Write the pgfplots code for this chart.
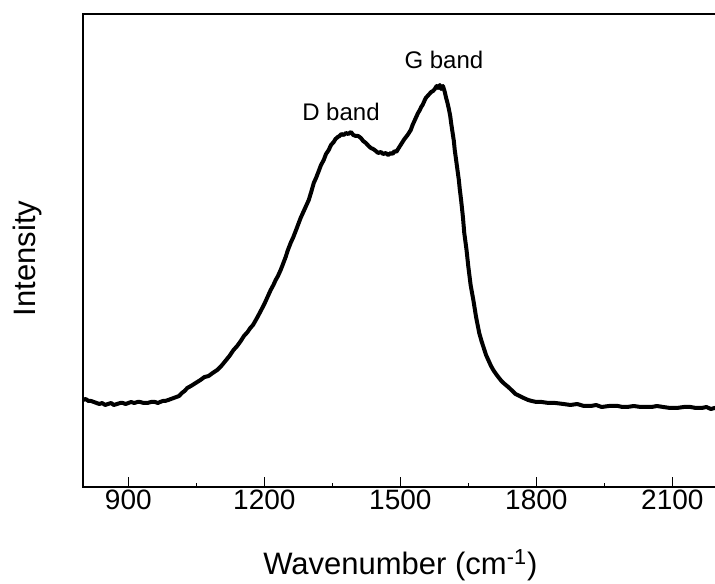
\documentclass[border=0pt]{standalone}
\usepackage{fontspec}
\setmainfont{Liberation Sans}
\usepackage{pgfplots}
\pgfplotsset{compat=1.18}
\pgfplotstableread{
x y
800 87
806 88
812 86
818 86
824 85
830 84
836 83
842 84
849 82
855 83
862 84
868 82
875 83
882 84
888 84
894 83
900 84
906 85
913 84
920 85
926 85
934 84
942 84
950 85
959 85
965 84
970 85
976 86
981 86
988 87
994 88
1000 89
1006 90
1012 91
1018 94
1024 96
1030 99
1038 101
1045 103
1052 105
1059 107
1068 110
1077 111
1086 114
1096 117
1105 121
1114 126
1123 131
1132 137
1140 141
1148 146
1155 151
1163 155
1169 159
1175 162
1180 166
1185 170
1192 176
1200 183
1207 190
1214 197
1220 202
1225 207
1230 211
1236 217
1242 224
1247 230
1252 237
1258 244
1264 250
1270 257
1275 263
1280 269
1285 274
1290 279
1294 283
1298 287
1304 296
1309 304
1314 309
1320 316
1325 322
1331 327
1336 333
1342 337
1347 342
1353 345
1357 348
1362 350
1366 351
1370 353
1375 352
1380 354
1385 353
1391 355
1396 352
1402 351
1407 351
1413 349
1418 346
1424 344
1430 341
1435 339
1440 338
1446 336
1451 334
1457 335
1462 333
1468 334
1473 332
1479 334
1483 333
1487 336
1491 335
1495 338
1502 343
1509 348
1516 352
1523 357
1527 362
1531 366
1535 370
1539 374
1543 377
1546 380
1549 382
1552 385
1556 389
1560 391
1564 393
1568 395
1572 396
1576 398
1580 401
1583 399
1587 402
1590 398
1594 401
1598 395
1601 389
1604 384
1607 378
1610 371
1612 364
1615 355
1618 346
1620 337
1623 327
1626 317
1629 307
1631 298
1634 287
1638 270
1641 254
1646 237
1650 220
1655 202
1661 187
1667 170
1674 154
1679 146
1684 139
1689 132
1694 127
1700 121
1705 117
1711 113
1716 110
1723 106
1730 103
1738 100
1745 97
1754 93
1763 91
1772 89
1782 87
1790 86
1800 85
1812 85
1827 84
1842 84
1860 83
1875 82
1890 83
1905 81
1920 81
1932 82
1944 80
1960 81
1980 81
1990 80
2000 80
2015 81
2030 80
2042 80
2054 80
2066 81
2080 80
2095 79
2110 79
2125 80
2140 80
2152 79
2165 79
2175 80
2185 78
2193 79
2200 79
}\spectrum
\begin{document}
\begin{tikzpicture}
\useasboundingbox (-41.5bp,-48.5bp) rectangle (316bp,243.5bp);
\begin{axis}[
  scale only axis, width=317.35bp, height=236.5bp,
  xmin=800, xmax=2200, ymin=0, ymax=473,
  axis line style={line width=1bp},
  xtick={900,1200,1500,1800,2100},
  minor x tick num=1,
  xtick pos=bottom, ytick pos=left,
  tick align=inside,
  major tick length=5bp, minor tick length=2bp,
  every tick/.style={black, line width=0.8bp},
  ytick={\empty},
  minor ytick={23.65,47.3,...,460},
  /pgf/number format/assume math mode=true,
  /pgf/number format/set thousands separator={},
  xticklabel style={font=\fontsize{14bp}{16bp}\selectfont, yshift=2bp},
  xlabel={Wavenumber (cm\textsuperscript{-1})},
  ylabel={Intensity},
  xlabel style={font=\fontsize{15.5bp}{18bp}\selectfont, at={(axis description cs:0.5,-0.186)}, anchor=base},
  ylabel style={font=\fontsize{15.5bp}{18bp}\selectfont, at={(axis description cs:-0.0756,0.483)}, anchor=base, rotate=0},
]
\addplot[black, line width=2bp, line join=round] table[x=x,y=y] {\spectrum};
\node[font=\fontsize{12bp}{14bp}\selectfont] at (axis cs:1369,375) {D band};
\node[font=\fontsize{12bp}{14bp}\selectfont] at (axis cs:1596,427) {G band};
\end{axis}
\end{tikzpicture}
\end{document}
